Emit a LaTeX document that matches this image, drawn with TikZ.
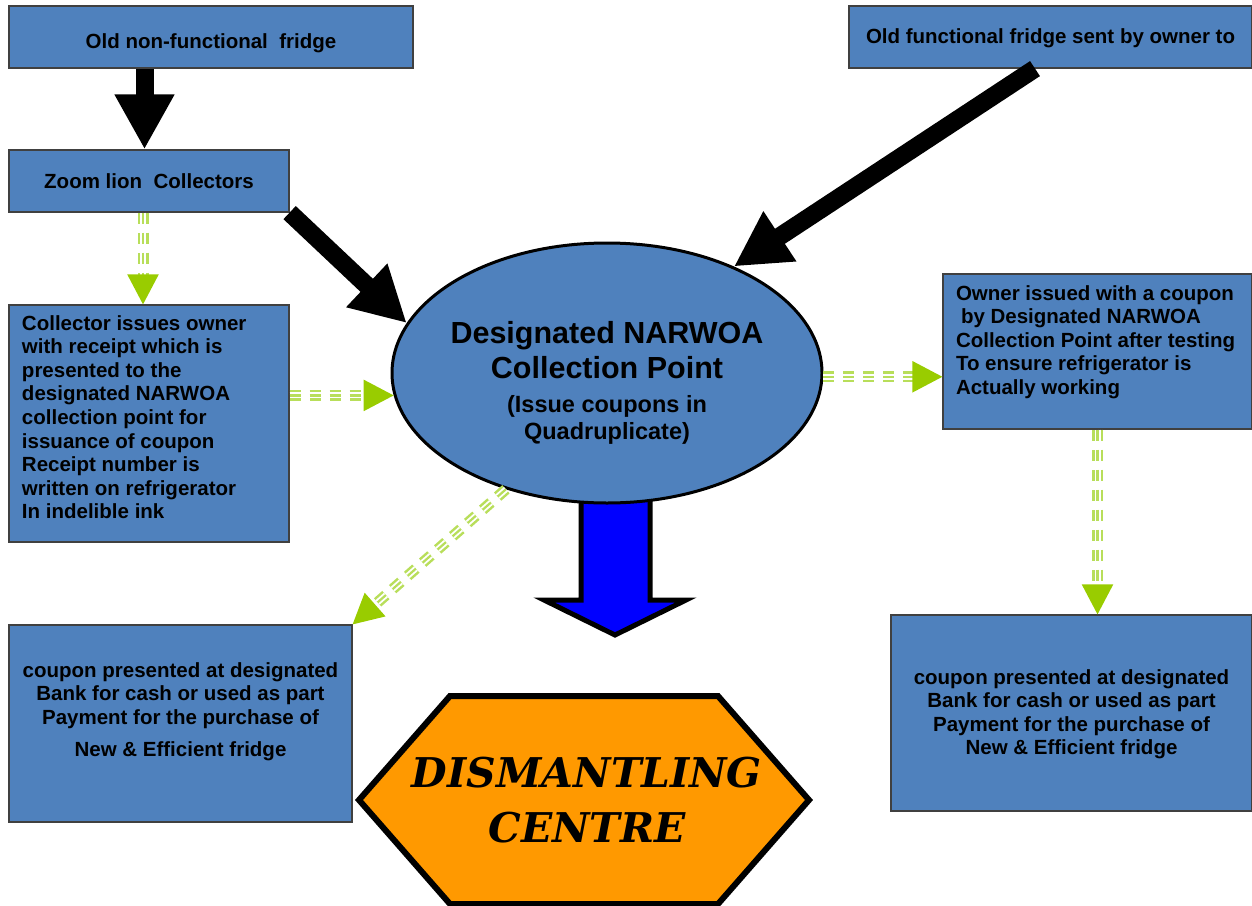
\documentclass[tikz,border=0pt]{standalone}
\usepackage{fontspec}
\setmainfont{Liberation Sans}
\newfontfamily\hexfont{DejaVu Serif}
\usetikzlibrary{arrows.meta,shapes.geometric}
\definecolor{boxblue}{HTML}{4F81BD}
\definecolor{gtip}{HTML}{99CC00}
\definecolor{gstripe}{HTML}{B8DE5A}
\definecolor{hexorange}{HTML}{FF9900}
\definecolor{arrblue}{HTML}{0000FF}
\newcommand\fl{\rule{0pt}{15pt}}
\newcommand\tb[5]{\parbox[c][#1][t]{#2}{#4\vspace*{#3}\fl#5}}
\begin{document}
\begin{tikzpicture}[x=1pt,y=-1pt,
  box/.style={draw=black!75, line width=1.2pt, fill=boxblue, inner sep=0pt,
    font=\bfseries\fontsize{20.5}{23.6}\selectfont},
  blk/.style={line width=18pt, -{Triangle[length=55pt,width=56pt]}},
  gline/.style={draw=gstripe, line width=2.2pt, dash pattern=on 11pt off 9pt,
    -{Triangle[length=30pt,width=31pt,color=gtip]},
    preaction={draw=gstripe, line width=11pt, arrows=-, dash pattern=on 11pt off 9pt, shorten >=29pt},
    preaction={draw=white, line width=6pt, arrows=-, dash pattern=on 11pt off 9pt, shorten >=29pt}},
  blockarrow/.style={draw=black, line width=5pt, fill=arrblue, line join=miter},
  hexa/.style={draw=black, line width=6pt, fill=hexorange, line join=miter}]
\useasboundingbox (0,0) rectangle (1252,905);

% boxes
\node[box] (b1) at (211,37) {\tb{62pt}{404pt}{27pt}{\centering}{Old non-functional\ \ fridge}};
\node[box] (b2) at (1050.5,37) {\tb{62pt}{403pt}{22pt}{\centering}{Old functional fridge sent by owner to}};
\node[box] (zl) at (149,181) {\tb{62pt}{280pt}{23pt}{\centering}{Zoom lion\ \ Collectors}};
\node[box] (ci) at (149,423.5) {\tb{237pt}{280pt}{10pt}{\raggedright\leftskip=13pt}{Collector issues owner\\
with receipt which is\\
presented to the\\
designated NARWOA\\
collection point for\\
issuance of coupon\\
Receipt number is\\
written on refrigerator\\
In indelible ink}};
\node[box] (ob) at (1097.5,351.5) {\tb{155pt}{309pt}{11pt}{\raggedright\leftskip=13pt}{Owner issued with a coupon\\
\hspace*{5pt}by Designated NARWOA\\
Collection Point after testing\\
To ensure refrigerator is\\
Actually working}};
\node[box] (lc) at (180.5,723.5) {\tb{197pt}{343pt}{37pt}{\centering}{coupon presented at designated\\
Bank for cash or used as part\\
Payment for the purchase of\\[9pt]
New \& Efficient fridge}};
\node[box] (rc) at (1071.5,713) {\tb{196pt}{361pt}{54pt}{\centering}{coupon presented at designated\\
Bank for cash or used as part\\
Payment for the purchase of\\
New \& Efficient fridge}};

% blue block arrow (under the ellipse)
\draw[blockarrow] (581,497) -- (581,600) -- (544,600) -- (615,635) -- (686,600) -- (650,600) -- (650,497) -- cycle;

% collection point
\node[ellipse, draw=black, line width=3pt, fill=boxblue, minimum width=430pt,
  minimum height=260pt, inner sep=0pt] (cp) at (607,373)
  {\makebox[0pt][c]{\parbox{340pt}{\centering\bfseries\vspace*{20pt}%
   \fontsize{30.5}{35}\selectfont Designated NARWOA\\Collection Point\par
   \vspace{7pt}\fontsize{23.5}{27}\selectfont (Issue coupons in\\Quadruplicate)}}};

% dismantling centre
\draw[hexa] (450,696) -- (718,696) -- (809,800) -- (718,904) -- (450,904) -- (359,800) -- cycle;
\node[font=\hexfont\bfseries\itshape\fontsize{41}{55}\selectfont, align=center, inner sep=0pt] (dc) at (587,800) {DISMANTLING\\CENTRE};

% black arrows
\draw[blk] ([xshift=-66.5pt]b1.south) -- ([xshift=-4.5pt]zl.north);
\draw[blk] (zl.south east) -- (cp.166);
\draw[blk] ([xshift=-15.5pt]b2.south) -- (cp.40);

% green dashed arrows
\draw[gline] ([xshift=-6pt]zl.south) -- ([xshift=-6pt]ci.north);
\draw[gline] (cp.186 -| ci.east) -- (cp.186);
\draw[gline] (cp.359) -- (cp.359 -| ob.west);
\draw[gline] (ob.south) -- (ob.south |- rc.north);
\draw[gline] (cp.229) -- (lc.north east);
\end{tikzpicture}
\end{document}
